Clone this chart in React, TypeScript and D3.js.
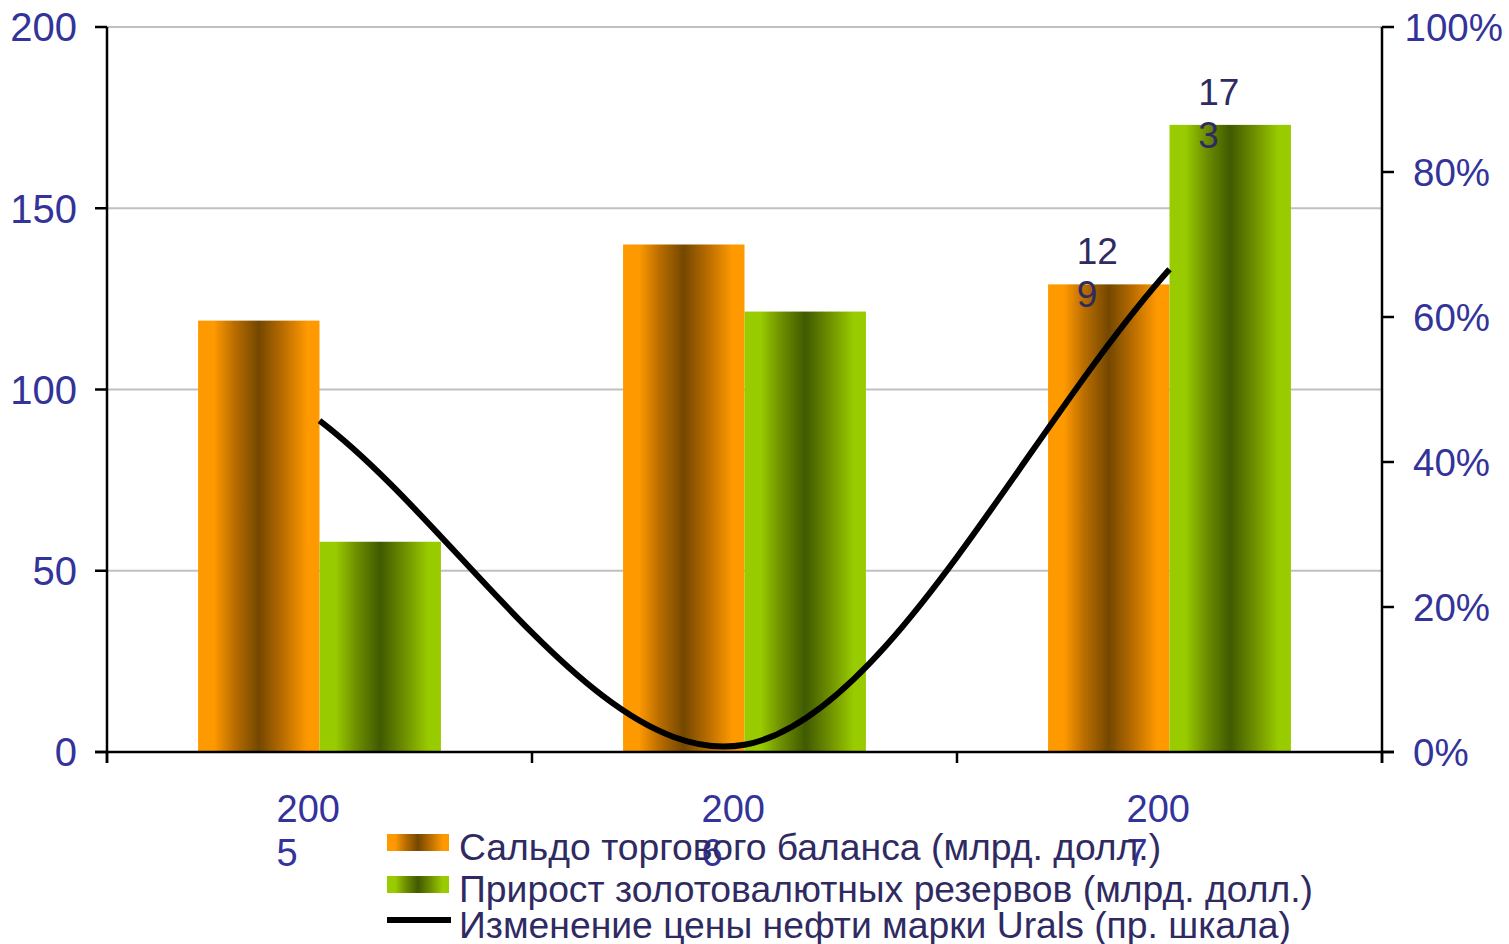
import { useRef, useEffect } from 'react';
import * as d3 from 'd3';

// chart data
const years = ['2005', '2006', '2007'];
const tradeBalance = [119, 140, 129]; // Сальдо торгового баланса, млрд. долл.
const reserveGrowth = [58, 121.5, 173]; // Прирост золотовалютных резервов, млрд. долл.
const oilChange = [0.457, 0.01, 0.666]; // Изменение цены нефти Urals (пр. шкала)
const labeledYear = '2007';
const leftTicks = [0, 50, 100, 150, 200];
const rightTicks = [0, 0.2, 0.4, 0.6, 0.8, 1];
const legendLabels = [
  'Сальдо торгового баланса (млрд. долл.)',
  'Прирост золотовалютных резервов (млрд. долл.)',
  'Изменение цены нефти марки Urals (пр. шкала)',
];

const W = 1509;
const H = 944;
const FONT = '"Liberation Sans", Arial, sans-serif';
const AXIS_COLOR = '#333399';
const TEXT_COLOR = '#2f2b62';

const App = () => {
  const svgRef = useRef<SVGSVGElement | null>(null);

  useEffect(() => {
    const svg = d3.select(svgRef.current);
    svg.selectAll('*').remove();

    const left = 107;
    const right = 1382;
    const top = 27;
    const bottom = 752;

    const x0 = d3.scaleBand().domain(years).range([left, right]).padding(0);
    const keys = ['trade', 'reserve'];
    const x1 = d3
      .scaleBand()
      .domain(keys)
      .range([0, x0.bandwidth()])
      .paddingInner(0)
      .paddingOuter(0.75);
    const yL = d3.scaleLinear().domain([0, 200]).range([bottom, top]);
    const yR = d3.scaleLinear().domain([0, 1]).range([bottom, top]);

    // gradients
    const defs = svg.append('defs');
    const grad = (id: string, light: string, mid: string, dark: string) => {
      const g = defs
        .append('linearGradient')
        .attr('id', id)
        .attr('x1', 0)
        .attr('x2', 1)
        .attr('y1', 0)
        .attr('y2', 0);
      [
        [0, light],
        [0.13, light],
        [0.3, mid],
        [0.5, dark],
        [0.7, mid],
        [0.9, light],
        [1, light],
      ].forEach(([o, c]) => g.append('stop').attr('offset', o as number).attr('stop-color', c as string));
    };
    grad('gOrange', '#ff9900', '#b96d00', '#744700');
    grad('gGreen', '#99cc00', '#6e8f00', '#405a00');
    const fills: Record<string, string> = { trade: 'url(#gOrange)', reserve: 'url(#gGreen)' };

    // gridlines
    svg
      .append('g')
      .selectAll('line')
      .data(leftTicks.filter(t => t > 0))
      .join('line')
      .attr('x1', left)
      .attr('x2', right)
      .attr('y1', d => yL(d))
      .attr('y2', d => yL(d))
      .attr('stroke', '#c0c0c0')
      .attr('stroke-width', 2);

    // bars
    const rows = years.map((yr, i) => ({
      year: yr,
      values: [
        { key: 'trade', v: tradeBalance[i] },
        { key: 'reserve', v: reserveGrowth[i] },
      ],
    }));

    const groups = svg
      .append('g')
      .selectAll('g')
      .data(rows)
      .join('g')
      .attr('transform', d => `translate(${x0(d.year)},0)`);

    groups
      .selectAll('rect')
      .data(d => d.values)
      .join('rect')
      .attr('x', d => x1(d.key) as number)
      .attr('width', x1.bandwidth())
      .attr('y', d => yL(d.v))
      .attr('height', d => yL(0) - yL(d.v))
      .attr('fill', d => fills[d.key]);

    // axes
    const axes = svg.append('g').attr('stroke', '#000').attr('stroke-width', 2.5);
    axes.append('line').attr('x1', left).attr('x2', left).attr('y1', top).attr('y2', bottom + 11);
    axes.append('line').attr('x1', right).attr('x2', right).attr('y1', top).attr('y2', bottom + 11);
    axes.append('line').attr('x1', left - 12).attr('x2', right + 12).attr('y1', bottom).attr('y2', bottom);
    axes
      .selectAll('.lt')
      .data(leftTicks)
      .join('line')
      .attr('x1', left - 12)
      .attr('x2', left)
      .attr('y1', d => yL(d))
      .attr('y2', d => yL(d));
    axes
      .selectAll('.rt')
      .data(rightTicks)
      .join('line')
      .attr('x1', right)
      .attr('x2', right + 12)
      .attr('y1', d => yR(d))
      .attr('y2', d => yR(d));
    axes
      .selectAll('.xt')
      .data([...years.map(y => x0(y) as number), right])
      .join('line')
      .attr('x1', d => d)
      .attr('x2', d => d)
      .attr('y1', bottom)
      .attr('y2', bottom + 11);

    // left tick labels
    svg
      .append('g')
      .selectAll('text')
      .data(leftTicks)
      .join('text')
      .attr('x', 77)
      .attr('y', d => yL(d))
      .attr('dy', '0.36em')
      .attr('text-anchor', 'end')
      .attr('font-family', FONT)
      .attr('font-size', 40)
      .attr('fill', AXIS_COLOR)
      .text(d => d);

    // right tick labels
    const fmt = d3.format('.0%');
    svg
      .append('g')
      .selectAll('text')
      .data(rightTicks)
      .join('text')
      .attr('x', 1413)
      .attr('y', d => yR(d))
      .attr('dy', '0.36em')
      .attr('font-family', FONT)
      .attr('font-size', 38.5)
      .attr('fill', AXIS_COLOR)
      .text(d => fmt(d))
      .each(function () {
        const el = this as SVGTextElement;
        const w = el.getComputedTextLength();
        if (1413 + w > W - 6) el.setAttribute('x', String(W - 6 - w));
      });

    // category labels (wrapped)
    const xl = svg
      .append('g')
      .selectAll('text')
      .data(years)
      .join('text')
      .attr('font-family', FONT)
      .attr('font-size', 38)
      .attr('fill', AXIS_COLOR);
    xl.append('tspan')
      .attr('x', d => (x0(d) as number) + x0.bandwidth() / 2 - 43)
      .attr('y', 822)
      .text(d => d.slice(0, 3));
    xl.append('tspan')
      .attr('x', d => (x0(d) as number) + x0.bandwidth() / 2 - 43)
      .attr('y', 866)
      .text(d => d.slice(3));

    // oil price line: smoothed bezier, endpoint tangents along the chord
    const pts = oilChange.map((v, i) => [
      (x0(years[i]) as number) + x0.bandwidth() / 2,
      yR(v),
    ]);
    const n = pts.length;
    const tan = pts.map((_p, i) => {
      const a = pts[Math.max(0, i - 1)];
      const b = pts[Math.min(n - 1, i + 1)];
      const f = i === 0 || i === n - 1 ? 1 : 0.5;
      return [(b[0] - a[0]) * f, (b[1] - a[1]) * f];
    });
    const p = d3.path();
    p.moveTo(pts[0][0], pts[0][1]);
    for (let i = 0; i < n - 1; i++) {
      p.bezierCurveTo(
        pts[i][0] + tan[i][0] / 3,
        pts[i][1] + tan[i][1] / 3,
        pts[i + 1][0] - tan[i + 1][0] / 3,
        pts[i + 1][1] - tan[i + 1][1] / 3,
        pts[i + 1][0],
        pts[i + 1][1],
      );
    }
    svg
      .append('path')
      .attr('d', p.toString())
      .attr('fill', 'none')
      .attr('stroke', '#000')
      .attr('stroke-width', 6);

    // data labels for 2007
    const li = years.indexOf(labeledYear);
    const labels = svg
      .append('g')
      .selectAll('text')
      .data(rows[li].values)
      .join('text')
      .attr('font-family', FONT)
      .attr('font-size', 37)
      .attr('fill', TEXT_COLOR);
    const lx = (d: { key: string }) =>
      (x0(labeledYear) as number) + (x1(d.key) as number) + x1.bandwidth() / 2 - 32;
    labels
      .append('tspan')
      .attr('x', lx)
      .attr('y', d => yL(d.v) - 20)
      .text(d => String(Math.round(d.v)).slice(0, 2));
    labels
      .append('tspan')
      .attr('x', lx)
      .attr('y', d => yL(d.v) + 23)
      .text(d => String(Math.round(d.v)).slice(2));

    // legend
    const lg = svg.append('g');
    const rowY = [842, 884, 920];
    lg.append('rect').attr('x', 387).attr('y', rowY[0] - 8).attr('width', 62).attr('height', 17).attr('fill', 'url(#gOrange)');
    lg.append('rect').attr('x', 387).attr('y', rowY[1] - 8).attr('width', 62).attr('height', 17).attr('fill', 'url(#gGreen)');
    lg.append('line').attr('x1', 387).attr('x2', 451).attr('y1', rowY[2]).attr('y2', rowY[2]).attr('stroke', '#000').attr('stroke-width', 6);
    lg.selectAll('text')
      .data(legendLabels)
      .join('text')
      .attr('x', 459)
      .attr('y', (_d, i) => rowY[i] + 18)
      .attr('font-family', FONT)
      .attr('font-size', 37.3)
      .attr('fill', TEXT_COLOR)
      .text(d => d);
  }, []);

  return (
    <svg
      ref={svgRef}
      width={W}
      height={H}
      style={{ position: 'absolute', left: 0, top: 0, background: '#fff' }}
    ></svg>
  );
};

export default App;
